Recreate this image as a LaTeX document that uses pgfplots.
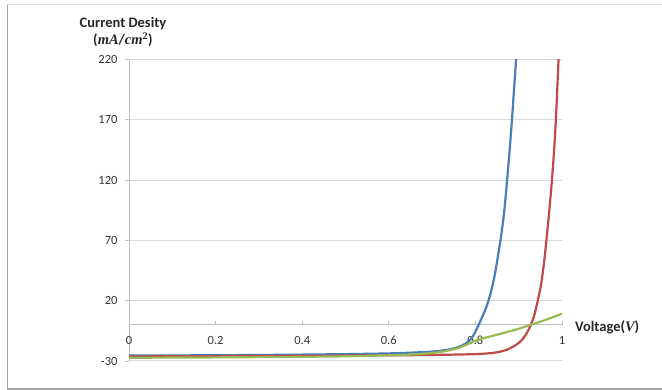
\documentclass[border=0pt]{standalone}
\usepackage{pgfplots}
\pgfplotsset{compat=1.18}
\usepackage{fontspec}
\setmainfont{Carlito}
\newfontfamily\mathserif{Liberation Serif}
\definecolor{xlblue}{HTML}{4A7EBB}
\definecolor{xlred}{HTML}{BE4B48}
\definecolor{xlgreen}{HTML}{98B954}
\definecolor{gridgray}{HTML}{D9D9D9}
\definecolor{axgray}{HTML}{BFBFBF}
\definecolor{ticktext}{HTML}{333333}
\begin{document}
\begin{tikzpicture}[x=1pt,y=1pt]
\path[use as bounding box] (0,0) rectangle (662,390);
\draw[gray!25, line width=1pt] (7,385) -- (662,385);
\draw[gray!70, line width=1.5pt] (7.5,0) -- (7.5,385);
\draw[gray!70, line width=1.5pt] (7,1.2) -- (662,1.2);
\begin{axis}[
  at={(129pt,29pt)}, anchor=south west,
  scale only axis, width=433pt, height=301.5pt,
  xmin=0, xmax=1, ymin=-30, ymax=220,
  axis x line*=middle, axis y line*=left,
  hide obscured x ticks=false, hide obscured y ticks=false,
  xtick={0,0.2,0.4,0.6,0.8,1},
  xticklabels={0,0.2,0.4,0.6,0.8,1},
  ytick={-30,20,70,120,170,220},
  yticklabels={-30,20,70,120,170,220},
  tick align=outside,
  major tick length=4pt,
  x tick style={axgray, line width=0.8pt, yshift=4pt},
  y tick style={axgray, line width=0.8pt},
  axis line style={axgray, line width=1pt},
  ymajorgrids,
  major grid style={gridgray, line width=1pt},
  ticklabel style={font=\fontsize{12.5}{14}\selectfont, text=ticktext},
  xticklabel style={yshift=-4pt},
  yticklabel style={xshift=-4pt},
  clip=true,
]
\addplot[xlblue, line width=2.2pt, smooth] coordinates {
(0,-25.5) (0.1,-25.4) (0.2,-25.2) (0.3,-25.0) (0.4,-24.7) (0.5,-24.3)
(0.6,-23.7) (0.65,-23.1) (0.7,-22.2) (0.73,-21.0) (0.75,-19.6) (0.77,-17.0)
(0.785,-13.5) (0.795,-9.0) (0.805,-2.0) (0.815,6) (0.825,14.5) (0.835,26)
(0.845,42) (0.857,68) (0.865,89) (0.871,111) (0.878,140) (0.884,168)
(0.889,194) (0.894,220) (0.896,232)
};
\addplot[xlred, line width=2.2pt, smooth] coordinates {
(0,-26.2) (0.2,-26.0) (0.4,-25.7) (0.6,-25.3) (0.7,-25.0) (0.8,-24.3)
(0.84,-23.3) (0.86,-22.0) (0.875,-20.3) (0.89,-17.5) (0.9,-15.0) (0.91,-11.5)
(0.92,-6) (0.928,0) (0.936,8) (0.944,20) (0.951,32) (0.958,50) (0.964,70)
(0.971,96) (0.977,121) (0.982,146) (0.986,171) (0.989,195) (0.992,220) (0.994,235)
};
\addplot[xlgreen, line width=2.2pt, smooth] coordinates {
(0,-27.3) (0.2,-27.0) (0.4,-26.5) (0.5,-26.1) (0.6,-25.3) (0.65,-24.6)
(0.7,-23.4) (0.73,-21.8) (0.76,-19.3) (0.788,-15.0) (0.8,-13.2) (0.82,-11.0)
(0.85,-8.2) (0.88,-5.3) (0.9,-3.3) (0.928,0) (0.95,2.6) (0.975,5.8) (1.0,9.2)
};
\end{axis}
\node[font=\fontsize{14.5}{17}\selectfont\bfseries, align=center, text=black!85] at (123,357.5)
  {Current Desity\\({\mathserif\itshape mA}/{\mathserif\itshape cm}\textsuperscript{\mathserif 2})};
\node[font=\fontsize{14.5}{17}\selectfont\bfseries, anchor=west, text=black!85, inner sep=0pt] at (575,62.5)
  {Voltage({\mathserif\itshape V})};
\end{tikzpicture}
\end{document}
